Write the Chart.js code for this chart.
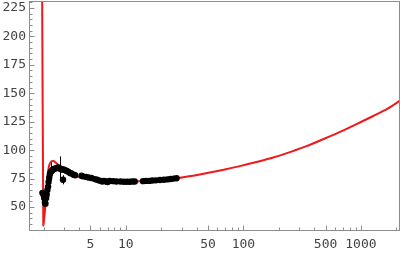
<!DOCTYPE html>
<html>
<head>
<meta charset="utf-8">
<script src="https://cdn.jsdelivr.net/npm/chart.js@4"></script>
<style>
	html, body { margin: 0; padding: 0; background: #fff; }
	canvas { display: block; }
</style>
</head>
<body>
<canvas id="chart" width="400" height="256"></canvas>
<script>
// fitted curve (red)
const curveX = [1.94, 1.985, 2.0, 2.04, 2.07, 2.10, 2.13, 2.16, 2.18, 2.22, 2.28, 2.35, 2.42, 2.5, 2.6, 2.75, 2.9, 3.1, 3.4, 3.8, 4.3, 5, 6, 7.5, 9, 11, 13, 16, 20, 27.2, 37.5, 51.9, 69.6, 93.3, 129.4, 179.6, 248.7, 345, 477, 663, 918, 1273, 1704, 2150];
const curveY = [240, 34, 36, 45, 51, 58, 65, 74, 81, 86, 89, 90.3, 90.5, 89.5, 88, 86, 83.5, 81, 78.8, 77, 75.8, 74.5, 73.5, 72.8, 72.5, 72.4, 72.6, 73.1, 74, 75.3, 77.6, 80.3, 83, 86, 89.6, 93.5, 98.3, 103.5, 109.6, 116, 122.9, 130, 136.7, 143.5];

// measured points (black) with errors
const dotX = [1.95, 1.99, 2.02, 2.05, 2.07, 2.10, 2.12, 2.15, 2.18, 2.20, 2.23, 2.26, 2.30, 2.35, 2.40, 2.45, 2.52, 2.60, 2.66, 2.74, 2.80, 2.85, 2.92, 2.95, 3.02, 3.12, 3.23, 3.35, 3.45, 3.6, 3.7, 4.2, 4.3, 4.6, 4.8, 5.1, 5.44, 5.7, 6.0, 6.3, 6.5, 6.8, 7.0, 7.3, 7.8, 8.3, 9.0, 9.6, 10.2, 10.8, 11.4, 11.9, 14.0, 14.8, 15.8, 16.8, 18, 19.5, 21, 22.5, 24, 25.5, 27];
const dotY = [62.5, 61, 58, 54, 53, 58, 61, 65, 68, 72, 76, 79, 81, 82, 83, 83.5, 84, 84.5, 84.5, 84, 83.5, 83, 74, 83, 82.5, 82, 81, 80, 79.5, 78.5, 78, 77.5, 77, 76.5, 76, 75.5, 74.6, 74, 73.2, 72.5, 73, 72.5, 72, 73, 72.8, 72.5, 72.5, 72.3, 72.3, 72.3, 72.5, 72.5, 72.8, 73, 73, 73.3, 73.5, 73.8, 74, 74.3, 74.7, 75, 75.3];
const dotErr = [1.5, 1.5, 1.5, 1.5, 1.5, 1.5, 1.5, 1.5, 1.5, 1.5, 1.5, 1.5, 8, 1.5, 1.5, 1.5, 1.5, 1.5, 1.5, 10.5, 1.5, 1.5, 4, 1.5, 1.5, 1.5, 1.5, 1.5, 1.5, 1.5, 1.5, 1, 1, 1, 1, 1, 1, 1, 1, 1, 1, 1, 1, 1, 1, 1, 1, 1, 1, 1, 1, 1, 1, 1, 1, 1, 1, 1, 1, 1, 1, 1, 1];

// axis ticks
const xTickLabels = [5, 10, 50, 100, 500, 1000];
const xMinorTicks = [2, 3, 4, 6, 7, 8, 9, 20, 30, 40, 60, 70, 80, 90, 200, 300, 400, 600, 700, 800, 900, 2000];
const yTickLabels = [50, 75, 100, 125, 150, 175, 200, 225];
const yMinorTicks = [30, 35, 40, 45, 55, 60, 65, 70, 80, 85, 90, 95, 105, 110, 115, 120, 130, 135, 140, 145, 155, 160, 165, 170, 180, 185, 190, 195, 205, 210, 215, 220, 230];

const frameColor = '#8c8c8c';

// 프레임, 안쪽 눈금, 오차 막대
const framePlugin = {
	id: 'framePlugin',
	afterDatasetsDraw(chart) {
		const ctx = chart.ctx;
		const x = chart.scales.x, y = chart.scales.y;
		ctx.save();
		ctx.strokeStyle = '#000';
		ctx.lineWidth = 1;
		dotX.forEach((v, i) => {
			const px = Math.round(x.getPixelForValue(v)) + 0.5;
			ctx.beginPath();
			ctx.moveTo(px, y.getPixelForValue(dotY[i] + dotErr[i]));
			ctx.lineTo(px, y.getPixelForValue(dotY[i] - dotErr[i]));
			ctx.stroke();
		});
		ctx.restore();
	},
	afterDraw(chart) {
		const ctx = chart.ctx;
		const a = chart.chartArea;
		const x = chart.scales.x, y = chart.scales.y;
		ctx.save();
		ctx.strokeStyle = frameColor;
		ctx.lineWidth = 1;
		ctx.strokeRect(a.left + 0.5, a.top + 0.5, a.right - a.left - 1, a.bottom - a.top - 1);
		ctx.beginPath();
		const bx = a.bottom - 0.5, lx = a.left + 0.5;
		xTickLabels.forEach(v => { const p = Math.round(x.getPixelForValue(v)) + 0.5; ctx.moveTo(p, bx); ctx.lineTo(p, bx - 5); });
		xMinorTicks.forEach(v => { const p = Math.round(x.getPixelForValue(v)) + 0.5; ctx.moveTo(p, bx); ctx.lineTo(p, bx - 3); });
		yTickLabels.forEach(v => { const p = Math.round(y.getPixelForValue(v)) + 0.5; ctx.moveTo(lx, p); ctx.lineTo(lx + 5, p); });
		yMinorTicks.forEach(v => { const p = Math.round(y.getPixelForValue(v)) + 0.5; ctx.moveTo(lx, p); ctx.lineTo(lx + 3, p); });
		ctx.stroke();
		ctx.restore();
	}
};

const tickFont = { family: "'DejaVu Sans Mono', monospace", size: 13 };

new Chart(document.getElementById('chart'), {
	type: 'scatter',
	data: {
		datasets: [
			{
				data: dotX.map((v, i) => ({ x: v, y: dotY[i] })),
				backgroundColor: '#000',
				borderColor: '#000',
				pointRadius: 3.2,
				borderWidth: 0,
				showLine: false,
				order: 0
			},
			{
				data: curveX.map((v, i) => ({ x: v, y: curveY[i] })),
				borderColor: '#f01818',
				borderWidth: 2,
				pointRadius: 0,
				showLine: true,
				tension: 0.3,
				order: 1
			}
		]
	},
	options: {
		responsive: false,
		animation: false,
		devicePixelRatio: 1,
		layout: { autoPadding: false, padding: { top: 1, right: 0, left: 0, bottom: 0 } },
		plugins: { legend: { display: false }, tooltip: { enabled: false } },
		scales: {
			x: {
				type: 'logarithmic',
				min: 1.5,
				max: 2150,
				afterBuildTicks: s => { s.ticks = xTickLabels.map(v => ({ value: v })); },
				afterFit: s => { s.height = 25; s.paddingLeft = 0; s.paddingRight = 0; },
				grid: { display: false, drawTicks: false },
				border: { display: false },
				ticks: {
					autoSkip: false, maxRotation: 0, padding: 6,
					color: '#444', font: tickFont,
					callback: v => String(v)
				}
			},
			y: {
				min: 29,
				max: 231,
				afterBuildTicks: s => { s.ticks = yTickLabels.map(v => ({ value: v })); },
				afterFit: s => { s.width = 29; s.paddingTop = 0; s.paddingBottom = 0; },
				grid: { display: false, drawTicks: false },
				border: { display: false },
				ticks: {
					autoSkip: false, padding: 3,
					color: '#444', font: tickFont,
					callback: v => String(v)
				}
			}
		}
	},
	plugins: [framePlugin]
});
</script>
</body>
</html>
